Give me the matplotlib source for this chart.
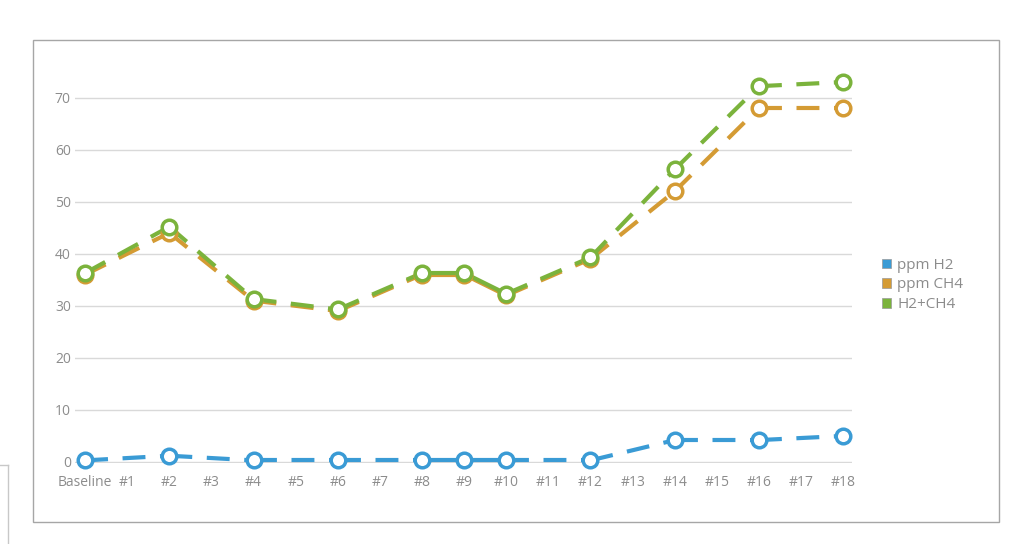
import matplotlib.pyplot as plt
from matplotlib.lines import Line2D
from matplotlib.patches import Rectangle

categories = ['Baseline', '#1'] + ['#%d' % i for i in range(2, 19)]
measured = ['Baseline', '#2', '#4', '#6', '#8', '#9', '#10', '#12', '#14', '#16', '#18']
ppm_h2 = [0.3, 1.2, 0.3, 0.3, 0.3, 0.3, 0.3, 0.3, 4.2, 4.2, 5.0]
ppm_ch4 = [36, 44, 31, 29, 36, 36, 32, 39, 52, 68, 68]
h2_ch4 = [36.3, 45.2, 31.3, 29.3, 36.3, 36.3, 32.3, 39.3, 56.2, 72.2, 73.0]

series = [('ppm H2', ppm_h2, '#3a9bd5'),
          ('ppm CH4', ppm_ch4, '#d49b34'),
          ('H2+CH4', h2_ch4, '#7bb33c')]

plt.rcParams['font.family'] = ['Open Sans', 'DejaVu Sans']

fig = plt.figure(figsize=(10.24, 5.44), dpi=100)
ax = fig.add_axes([75 / 1024, 1 - 463 / 544, (852 - 75) / 1024, (463 - 56) / 544])

xs = [categories.index(c) for c in measured]

for z, (name, vals, col) in enumerate(series):
    for i in range(len(xs) - 1):
        x0, x1 = xs[i], xs[i + 1]
        if x1 - x0 == 1:
            ax.plot([x0, x1], [vals[i], vals[i + 1]], color=col, lw=3,
                    solid_capstyle='butt', zorder=2 + z, clip_on=False)
        else:
            ax.plot([x0, x1], [vals[i], vals[i + 1]], color=col, lw=3,
                    dashes=(5.5, 3.5), dash_capstyle='butt', zorder=2 + z, clip_on=False)
    ax.plot(xs, vals, linestyle='none', marker='o', ms=10.5, mfc='white', mec=col,
            mew=2.5, zorder=5 + z, clip_on=False)

ax.set_xlim(-0.24, 18.21)
ax.set_ylim(-0.2, 78)
ax.set_yticks(range(0, 80, 10))
ax.set_xticks(range(len(categories)))
ax.set_xticklabels(categories)
ax.yaxis.grid(True, color='#d9d9d9', lw=1)
ax.set_axisbelow(True)
for s in ax.spines.values():
    s.set_visible(False)
ax.tick_params(length=0, colors='#8c8c8c', labelsize=10)
ax.tick_params(axis='x', pad=9)
ax.tick_params(axis='y', pad=3)

handles = [Rectangle((0, 0), 1, 1, facecolor=c, edgecolor='#999999', lw=0.5) for _, _, c in series]
fig.legend(handles, [n for n, _, _ in series], loc='center left',
           bbox_to_anchor=(868 / 1024, 1 - 285 / 544), frameon=False,
           handlelength=0.6, handleheight=0.6, handletextpad=0.4, labelspacing=0.3,
           labelcolor='#8c8c8c', fontsize=11)

fig.add_artist(Rectangle((33 / 1024, 1 - 522 / 544), (999 - 33) / 1024, (522 - 40) / 544,
                         transform=fig.transFigure, fill=False, edgecolor='#a6a6a6', lw=1))
fig.add_artist(Line2D([0, 8 / 1024], [1 - 465 / 544] * 2, transform=fig.transFigure,
                      color='#c8c8c8', lw=1))
fig.add_artist(Line2D([8 / 1024] * 2, [0, 1 - 465 / 544], transform=fig.transFigure,
                      color='#c8c8c8', lw=1))

fig.savefig('out.png', dpi=100, facecolor='white')
